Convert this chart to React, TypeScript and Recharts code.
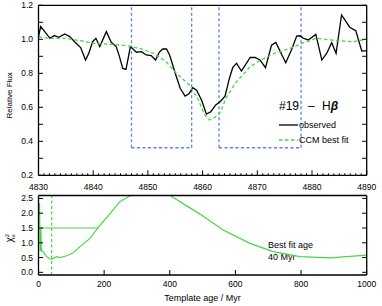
import {
  Customized,
  Legend,
  Line,
  LineChart,
  ReferenceLine,
  XAxis,
  YAxis,
} from "recharts";

// observed spectrum around H-beta (rest-frame wavelength, relative flux)
const obsWave = [
  4830.0, 4830.4, 4831.4, 4832.1, 4832.9, 4833.7, 4834.8, 4835.7, 4836.6, 4837.7,
  4838.6, 4839.2, 4839.9, 4840.5, 4841.2, 4842.4, 4843.3, 4844.2, 4844.8, 4845.4,
  4846.0, 4846.8, 4847.9, 4848.8, 4849.7, 4850.6, 4851.4, 4852.1, 4852.7, 4853.4,
  4854.0, 4855.0, 4855.9, 4856.8, 4857.5, 4858.2, 4858.9, 4859.8, 4860.7, 4861.5,
  4862.4, 4863.2, 4864.1, 4864.9, 4865.5, 4866.2, 4867.1, 4868.7, 4869.6, 4870.5,
  4871.5, 4872.6, 4873.4, 4874.5, 4875.2, 4876.3, 4877.2, 4877.8, 4878.4, 4879.3,
  4880.7, 4881.8, 4882.7, 4883.6, 4884.4, 4885.4, 4886.9, 4888.0, 4889.1, 4890.0,
];
const obsFlux = [
  1.016, 1.075, 1.035, 1.006, 1.022, 1.012, 1.031, 1.016, 0.986, 0.951,
  0.878, 0.918, 0.986, 1.006, 0.957, 1.045, 0.982, 0.957, 0.898, 0.829,
  0.823, 0.957, 0.924, 0.927, 0.908, 0.904, 0.878, 0.925, 0.943, 0.943,
  0.905, 0.8, 0.712, 0.666, 0.68, 0.715, 0.7, 0.643, 0.56, 0.574,
  0.614, 0.633, 0.666, 0.77, 0.833, 0.859, 0.813, 0.893, 0.894, 0.878,
  0.833, 0.966, 0.982, 0.908, 0.862, 0.941, 1.019, 1.021, 1.006, 0.996,
  1.029, 0.878, 0.918, 0.98, 0.918, 1.143, 1.071, 1.051, 0.931, 0.933,
];

// CCM best fit
const fitWave = [
  4830, 4832, 4835, 4838, 4840, 4843.6, 4846, 4848.5, 4851, 4853.3,
  4855.2, 4857.6, 4859.2, 4860.4, 4861.3, 4862.2, 4863.2, 4864.4, 4866.2, 4868.7,
  4870.7, 4873, 4876, 4878.5, 4880.9, 4882.5, 4884.5, 4887.5, 4890,
];
const fitFlux = [
  1.015, 1.005, 1.005, 0.99, 0.976, 0.97, 0.963, 0.947, 0.918, 0.869,
  0.8, 0.731, 0.645, 0.555, 0.525, 0.54, 0.57, 0.662, 0.75, 0.839,
  0.88, 0.915, 0.947, 0.98, 1.006, 1.0, 0.992, 0.986, 1.0,
];

// index windows (lo, hi) and their lower edge
const bandWindows = [
  [4847, 4858],
  [4863, 4878],
];
const windowFloor = 0.362;

// reduced chi-square vs template age
const ageMyr = [
  3, 5, 7, 9, 13, 17, 25, 33, 40, 55, 65, 86, 106, 126, 157, 182, 218, 248, 279,
  340, 401, 492, 563, 644, 715, 797, 888, 1000,
];
const chiSq = [
  2.35, 0.72, 1.5, 0.72, 0.72, 0.66, 0.53, 0.46, 0.45, 0.53, 0.5, 0.56, 0.66, 0.87,
  1.15, 1.52, 1.99, 2.39, 2.59, 3.0, 2.6, 1.97, 1.43, 0.98, 0.7, 0.53, 0.49, 0.58,
];
const limitAge = [7, 182];
const limitChi = [1.5, 1.5];
const bestAge = 40;

const legendOrder = ["observed", "CCM best fit"];
const waveTicks = Array.from({ length: 61 }, (_, i) => 4830 + i);
const fluxTicks = [0.2, 0.3, 0.4, 0.5, 0.6, 0.7, 0.8, 0.9, 1.0, 1.1, 1.2];
const ageTicks = [0, 200, 400, 600, 800, 1000];
const chiTicks = [0, 0.5, 1.0, 1.5, 2.0, 2.5];

const FONT = "'Liberation Sans', Arial, sans-serif";
const GREEN = "#45d845";
const BLUE = "#5a84e8";

const obsData = obsWave.map((wl, i) => ({ wl, flux: obsFlux[i] }));
const fitData = fitWave.map((wl, i) => ({ wl, flux: fitFlux[i] }));
const chiData = ageMyr.map((age, i) => ({ age, chi: chiSq[i] }));
const limitData = limitAge.map((age, i) => ({ age, chi: limitChi[i] }));

type Side = "bottom" | "top" | "left" | "right";

// inward IDL-style ticks: tickSize/tickMargin are 0, so x/y sit on the axis line
function frameTick(
  side: Side,
  opts: { isMajor: (v: number) => boolean; fmt?: (v: number) => string; major: number; minor: number; gap?: number }
) {
  return (p: any) => {
    const { x, y, payload } = p;
    const v = Number(payload?.value);
    const big = opts.isMajor(v);
    const len = big ? opts.major : opts.minor;
    const dx = side === "left" ? len : side === "right" ? -len : 0;
    const dy = side === "bottom" ? -len : side === "top" ? len : 0;
    const label = big && opts.fmt ? opts.fmt(v) : null;
    return (
      <g>
        <line x1={x} y1={y} x2={x + dx} y2={y + dy} stroke="#000" strokeWidth={1} />
        {label && side === "bottom" ? (
          <text x={x} y={y + (opts.gap ?? 12)} textAnchor="middle" fontSize={8.5} fontFamily={FONT} fill="#000">
            {label}
          </text>
        ) : null}
        {label && side === "left" ? (
          <text x={x - (opts.gap ?? 5)} y={y + 3} textAnchor="end" fontSize={8.5} fontFamily={FONT} fill="#000">
            {label}
          </text>
        ) : null}
      </g>
    );
  };
}

const isTens = (v: number) => Math.round(v) % 10 === 0;
const isFifth = (v: number) => Math.round(v * 10) % 2 === 0;
const always = () => true;
const frameLine = { stroke: "#000", strokeWidth: 1.3 };

function FitLegend({ payload }: { payload?: any[] }) {
  const items = legendOrder
    .map((name) => (payload ?? []).find((p) => p.value === name))
    .filter(Boolean);
  return (
    <svg width={110} height={56} style={{ display: "block", overflow: "visible" }}>
      <text y={15} fontSize={12} fontFamily={FONT} fill="#000">
        <tspan x={9}>#19</tspan>
        <tspan x={38}>–</tspan>
        <tspan x={52}>H</tspan>
        <tspan fontWeight="bold" fontStyle="italic">β</tspan>
      </text>
      {items.map((it: any, i) => (
        <g key={it.value}>
          <line
            x1={9}
            x2={28}
            y1={30 + i * 15}
            y2={30 + i * 15}
            stroke={it.color}
            strokeWidth={1.3}
            strokeDasharray={it.payload?.strokeDasharray}
          />
          <text x={29} y={33 + i * 15} fontSize={9} fontFamily={FONT} fill="#000">
            {it.value}
          </text>
        </g>
      ))}
    </svg>
  );
}

function FluxLabel({ viewBox }: any) {
  const cx = viewBox.x + 12;
  const cy = viewBox.y + viewBox.height / 2 + 5;
  return (
    <text x={cx} y={cy} transform={`rotate(-90, ${cx}, ${cy})`} textAnchor="middle" fontSize={8} fontFamily={FONT} fill="#000">
      Relative Flux
    </text>
  );
}

function ChiLabel({ viewBox }: any) {
  const cx = viewBox.x + 13;
  const cy = viewBox.y + viewBox.height / 2 + 3;
  return (
    <text x={cx} y={cy} transform={`rotate(-90, ${cx}, ${cy})`} textAnchor="middle" fontSize={10} fontFamily={FONT} fill="#000">
      χ
      <tspan fontSize={6} dy={-4}>2</tspan>
      <tspan fontSize={6} dx={-3.5} dy={6}>ν</tspan>
    </text>
  );
}

function AgeLabel({ viewBox }: any) {
  return (
    <text x={viewBox.x + viewBox.width / 2} y={viewBox.y + 25.5} textAnchor="middle" fontSize={9} fontFamily={FONT} fill="#000">
      Template age / Myr
    </text>
  );
}

function BestFitNote() {
  return (
    <g fontSize={9} fontFamily={FONT} fill="#000">
      <text x={268} y={56}>Best fit age</text>
      <text x={268} y={68}>{`${bestAge} Myr`}</text>
    </g>
  );
}

export default function App() {
  return (
    <div style={{ position: "absolute", left: 0, top: 0, width: 382, height: 306, background: "#fff" }}>
      <div style={{ position: "absolute", left: 0, top: 0 }}>
        <LineChart width={382} height={192} margin={{ top: 0, right: 0, bottom: 0, left: 0 }}>
          <XAxis
            dataKey="wl"
            type="number"
            domain={[4830, 4890]}
            allowDataOverflow
            ticks={waveTicks}
            interval={0}
            height={16.7}
            tickSize={0}
            tickMargin={0}
            tickLine={false}
            axisLine={frameLine}
            tick={frameTick("bottom", { isMajor: isTens, fmt: (v) => String(v), major: 5, minor: 2, gap: 14.2 })}
          />
          <XAxis
            xAxisId="top"
            orientation="top"
            type="number"
            domain={[4830, 4890]}
            allowDataOverflow
            ticks={waveTicks}
            interval={0}
            height={5.3}
            tickSize={0}
            tickMargin={0}
            tickLine={false}
            axisLine={frameLine}
            tick={frameTick("top", { isMajor: isTens, major: 5, minor: 2 })}
          />
          <YAxis
            type="number"
            domain={[0.2, 1.2]}
            allowDataOverflow
            ticks={fluxTicks}
            interval={0}
            width={38.5}
            tickSize={0}
            tickMargin={0}
            tickLine={false}
            axisLine={frameLine}
            tick={frameTick("left", { isMajor: isFifth, fmt: (v) => v.toFixed(1), major: 4.5, minor: 4.5, gap: 5.5 })}
            label={<FluxLabel />}
          />
          <YAxis
            yAxisId="right"
            orientation="right"
            type="number"
            domain={[0.2, 1.2]}
            allowDataOverflow
            ticks={fluxTicks}
            interval={0}
            width={15.3}
            tickSize={0}
            tickMargin={0}
            tickLine={false}
            axisLine={frameLine}
            tick={frameTick("right", { isMajor: always, major: 4.5, minor: 4.5 })}
          />
          {bandWindows.map(([lo, hi]) => [
            <ReferenceLine
              key={`l${lo}`}
              segment={[{ x: lo, y: windowFloor }, { x: lo, y: 1.2 }]}
              stroke={BLUE}
              strokeWidth={1.3}
              strokeDasharray="3 2.5"
              ifOverflow="visible"
            />,
            <ReferenceLine
              key={`b${lo}`}
              segment={[{ x: lo, y: windowFloor }, { x: hi, y: windowFloor }]}
              stroke={BLUE}
              strokeWidth={1.3}
              strokeDasharray="3 2.5"
              ifOverflow="visible"
            />,
            <ReferenceLine
              key={`r${lo}`}
              segment={[{ x: hi, y: windowFloor }, { x: hi, y: 1.2 }]}
              stroke={BLUE}
              strokeWidth={1.3}
              strokeDasharray="3 2.5"
              ifOverflow="visible"
            />,
          ])}
          <Line
            data={obsData}
            dataKey="flux"
            name="observed"
            type="linear"
            stroke="#000"
            strokeWidth={1.3}
            dot={false}
            isAnimationActive={false}
          />
          <Line
            data={fitData}
            dataKey="flux"
            name="CCM best fit"
            type="linear"
            stroke={GREEN}
            strokeWidth={1.3}
            strokeDasharray="3.5 2.5"
            dot={false}
            isAnimationActive={false}
          />
          <Legend
            layout="vertical"
            align="center"
            verticalAlign="middle"
            content={(props: any) => <FitLegend payload={props.payload} />}
            wrapperStyle={{ left: 270, top: 95, width: 110, height: 56 }}
          />
        </LineChart>
      </div>
      <div style={{ position: "absolute", left: 0, top: 192 }}>
        <LineChart width={382} height={114} margin={{ top: 0, right: 0, bottom: 0, left: 0 }}>
          <XAxis
            dataKey="age"
            type="number"
            domain={[0, 1000]}
            allowDataOverflow
            ticks={ageTicks}
            interval={0}
            height={31}
            tickSize={0}
            tickMargin={0}
            tickLine={false}
            axisLine={frameLine}
            tick={frameTick("bottom", { isMajor: always, fmt: (v) => String(v), major: 5, minor: 5, gap: 12.3 })}
            label={<AgeLabel />}
          />
          <XAxis
            xAxisId="top"
            orientation="top"
            type="number"
            domain={[0, 1000]}
            allowDataOverflow
            height={3.5}
            tick={false}
            tickLine={false}
            axisLine={frameLine}
          />
          <YAxis
            type="number"
            domain={[-0.09, 2.6]}
            allowDataOverflow
            ticks={chiTicks}
            interval={0}
            width={38.5}
            tickSize={0}
            tickMargin={0}
            tickLine={false}
            axisLine={frameLine}
            tick={frameTick("left", { isMajor: always, fmt: (v) => v.toFixed(1), major: 4.5, minor: 4.5, gap: 5.5 })}
            label={<ChiLabel />}
          />
          <YAxis
            yAxisId="right"
            orientation="right"
            type="number"
            domain={[-0.09, 2.6]}
            allowDataOverflow
            ticks={chiTicks}
            interval={0}
            width={15.3}
            tickSize={0}
            tickMargin={0}
            tickLine={false}
            axisLine={frameLine}
            tick={frameTick("right", { isMajor: always, major: 4.5, minor: 4.5 })}
          />
          <ReferenceLine x={bestAge} stroke={GREEN} strokeWidth={1.2} strokeDasharray="3 2.5" />
          <Line
            data={limitData}
            dataKey="chi"
            type="linear"
            stroke={GREEN}
            strokeWidth={1.2}
            dot={false}
            isAnimationActive={false}
          />
          <Line
            data={chiData}
            dataKey="chi"
            type="linear"
            stroke={GREEN}
            strokeWidth={1.2}
            dot={false}
            isAnimationActive={false}
          />
          <Customized component={BestFitNote} />
        </LineChart>
      </div>
    </div>
  );
}
